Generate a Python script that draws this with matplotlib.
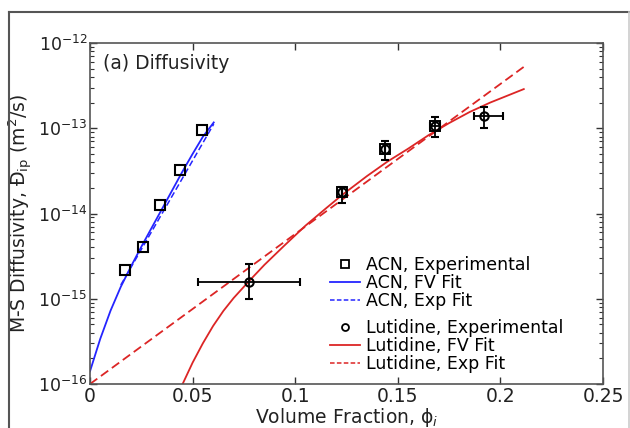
import matplotlib
matplotlib.use("Agg")
import matplotlib.pyplot as plt
from matplotlib.lines import Line2D
import numpy as np

plt.rcParams['font.family'] = ['DejaVu Sans']
plt.rcParams['mathtext.fontset'] = 'dejavusans'

# ACN experimental points
acn_x = [0.017, 0.0259, 0.034, 0.044, 0.0546]
acn_y = [2.2e-15, 4.1e-15, 1.27e-14, 3.2e-14, 9.5e-14]

# ACN free-volume fit
acn_fv_x = [0.0, 0.005, 0.01, 0.015, 0.02, 0.025, 0.03, 0.035, 0.04, 0.045, 0.05, 0.055, 0.0603]
acn_fv_y = [1.41e-16, 3.39e-16, 7.24e-16, 1.38e-15, 2.4e-15, 4.07e-15, 6.76e-15,
            1.12e-14, 1.86e-14, 3.09e-14, 5.0e-14, 7.94e-14, 1.17e-13]

# ACN exponential fit
acn_exp_x = [0.015, 0.0603]
acn_exp_y = [1.45e-15, 1.12e-13]

# Lutidine experimental points with error bars
lut_x = [0.0776, 0.123, 0.1436, 0.168, 0.1922]
lut_y = [1.58e-15, 1.8e-14, 5.75e-14, 1.07e-13, 1.41e-13]
lut_y_lo = [1.0e-15, 1.32e-14, 4.27e-14, 7.9e-14, 1.0e-13]
lut_y_hi = [2.57e-15, 2.04e-14, 7.1e-14, 1.35e-13, 1.78e-13]
lut_x_lo = [0.0528, 0.123, 0.1436, 0.1655, 0.1873]
lut_x_hi = [0.1024, 0.123, 0.1436, 0.1705, 0.2013]

# Lutidine free-volume fit
lut_fv_x = [0.0447, 0.05, 0.055, 0.06, 0.065, 0.07, 0.0776, 0.085, 0.095, 0.105,
            0.115, 0.123, 0.135, 0.145, 0.155, 0.165, 0.175, 0.185, 0.195, 0.2114]
lut_fv_y = [9.5e-17, 1.78e-16, 3.0e-16, 4.8e-16, 7.2e-16, 1.02e-15, 1.62e-15,
            2.5e-15, 4.27e-15, 7.2e-15, 1.15e-14, 1.66e-14, 2.75e-14, 4.07e-14,
            5.75e-14, 8.3e-14, 1.15e-13, 1.55e-13, 2.0e-13, 2.88e-13]

# Lutidine exponential fit
lut_exp_x = [0.0, 0.2114]
lut_exp_y = [1.0e-16, 5.25e-13]

blue = '#2424ff'
red = '#dc2525'
fs = 13.5

fig = plt.figure(figsize=(6.3, 4.28), dpi=100)
ax = fig.add_axes([90/630, 1 - 384/428, 513/630, 341/428])

ax.plot(acn_fv_x, acn_fv_y, '-', color=blue, lw=1.3)
ax.plot(acn_exp_x, acn_exp_y, '--', color=blue, lw=1.1, dashes=(4, 2))
ax.plot(acn_x, acn_y, 's', mfc='none', mec='black', mew=1.5, ms=7)

ax.plot(lut_fv_x, lut_fv_y, '-', color=red, lw=1.3)
ax.plot(lut_exp_x, lut_exp_y, '--', color=red, lw=1.3, dashes=(5, 2.5))

yerr = [np.array(lut_y) - np.array(lut_y_lo), np.array(lut_y_hi) - np.array(lut_y)]
xerr = [np.array(lut_x) - np.array(lut_x_lo), np.array(lut_x_hi) - np.array(lut_x)]
ax.errorbar(lut_x, lut_y, yerr=yerr, xerr=xerr, fmt='o', mfc='none', mec='black',
            mew=1.5, ms=6, ecolor='black', elinewidth=1.3, capsize=3, capthick=1.3)
ax.plot(lut_x[1:4], lut_y[1:4], 's', mfc='none', mec='black', mew=1.4, ms=7)

ax.set_yscale('log')
ax.set_xlim(0, 0.25)
ax.set_ylim(1e-16, 1e-12)
ax.set_xticks([0, 0.05, 0.1, 0.15, 0.2, 0.25])
ax.set_xticklabels(['0', '0.05', '0.1', '0.15', '0.2', '0.25'])
ax.tick_params(which='both', direction='in', top=True, right=True,
               colors='#333333', labelcolor='#222222')
ax.tick_params(axis='x', labelsize=fs)
ax.tick_params(axis='y', labelsize=12.5)
ax.tick_params(which='major', length=5, width=1, pad=2)
ax.tick_params(which='minor', length=3, width=0.8)
for s in ax.spines.values():
    s.set_color('#555555')
    s.set_linewidth(1.2)

ax.set_xlabel('Volume Fraction, ϕ$_i$', fontsize=fs, labelpad=0, color='#222222')
ax.set_ylabel('M-S Diffusivity, Đ$_{\\mathrm{ip}}$ (m$^2$/s)', fontsize=fs, color='#222222')
ax.yaxis.set_label_coords(-0.108, 0.5)
ax.text(0.025, 0.94, '(a) Diffusivity', transform=ax.transAxes, fontsize=fs,
        color='#222222', va='center')

h1 = [Line2D([], [], ls='none', marker='s', mfc='none', mec='black', mew=1.3, ms=6),
      Line2D([], [], color=blue, lw=1.3),
      Line2D([], [], color=blue, lw=1.1, ls='--', dashes=(3, 1.5))]
l1 = ['ACN, Experimental', 'ACN, FV Fit', 'ACN, Exp Fit']
h2 = [Line2D([], [], ls='none', marker='o', mfc='none', mec='black', mew=1.3, ms=5),
      Line2D([], [], color=red, lw=1.3),
      Line2D([], [], color=red, lw=1.1, ls='--', dashes=(3, 1.5))]
l2 = ['Lutidine, Experimental', 'Lutidine, FV Fit', 'Lutidine, Exp Fit']

kw = dict(frameon=False, fontsize=12.5, handlelength=1.75, handletextpad=0.35,
          labelspacing=0.0, borderpad=0, borderaxespad=0)
leg1 = ax.legend(h1, l1, loc='upper left', bbox_to_anchor=(240/513, 1 - (256 - 43)/341), **kw)
ax.add_artist(leg1)
ax.legend(h2, l2, loc='upper left', bbox_to_anchor=(240/513, 1 - (319 - 43)/341), **kw)

# outer frame of the original screenshot
fig.add_artist(Line2D([9/630, 9/630], [0, 1 - 12/428], color='#555555', lw=1.5))
fig.add_artist(Line2D([9/630, 629/630], [1 - 12/428, 1 - 12/428], color='#555555', lw=1.5))
fig.add_artist(Line2D([629/630, 629/630], [0, 1 - 12/428], color='#cccccc', lw=1.2))

fig.savefig('out.png', dpi=100)
